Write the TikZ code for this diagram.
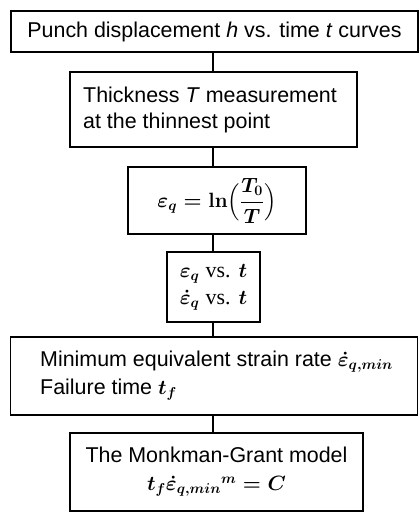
\documentclass[tikz,border=0pt]{standalone}
\usepackage{amsmath}
\usepackage[no-math]{fontspec}
\setmainfont{Liberation Sans}
\newfontfamily\serifvs{Liberation Serif}
\begin{document}
\begin{tikzpicture}[x=1bp,y=-1bp,
  box/.style={draw, line width=1.4bp, inner sep=0pt, outer sep=0pt},
  link/.style={line width=1.1bp},
  txt/.style={font=\fontsize{21.5}{24}\selectfont, inner sep=0pt},
  mth/.style={font=\fontsize{22}{24}\selectfont\boldmath, inner sep=0pt}]
\useasboundingbox (0,0) rectangle (419,513);
\node[box, minimum width=407bp, minimum height=41bp] (b1) at (214.5,31.5) {};
\node[box, minimum width=287bp, minimum height=75bp] (b2) at (213.5,109.5) {};
\node[box, minimum width=178bp, minimum height=67bp] (b3) at (217,200.5) {};
\node[box, minimum width=93bp, minimum height=70bp] (b4) at (213.5,287) {};
\node[box, minimum width=407bp, minimum height=78bp] (b5) at (214,376) {};
\node[box, minimum width=293bp, minimum height=78bp] (b6) at (216.5,472) {};
\node[txt] (t1) at (b1) {Punch displacement \textit{h} vs. time \textit{t} curves};
\node[txt, align=left, anchor=west, font=\fontsize{21.5}{27}\selectfont] (t2) at (83,110) {Thickness \textit{T} measurement\\at the thinnest point};
\node[mth] (t3) at (b3) {$\displaystyle \varepsilon_q = \ln\!\Big(\frac{T_0}{T}\Big)$};
\node[mth, align=center, font=\fontsize{22}{27}\selectfont\boldmath] (t4) at (b4) {$\varepsilon_q$ {\serifvs vs.} $t$\\$\dot{\varepsilon}_q$ {\serifvs vs.} $t$};
\node[txt, align=left, anchor=west, font=\fontsize{21.5}{28}\selectfont\boldmath] (t5) at (40,376) {Minimum equivalent strain rate $\dot{\varepsilon}_{q,min}$\\Failure time $t_f$};
\node[txt, align=center, font=\fontsize{21.5}{28}\selectfont\boldmath] (t6) at (b6) {The Monkman-Grant model\\$t_f\dot{\varepsilon}_{q,min}{}^{m} = C$};
\draw[link] (213,52) -- (b2.north -| 213,0);
\draw[link] (b2.south -| 213,0) -- (b3.north -| 213,0);
\draw[link] (b3.south -| 213,0) -- (b4.north -| 213,0);
\draw[link] (b4.south -| 213,0) -- (b5.north -| 213,0);
\draw[link] (b5.south -| 213,0) -- (b6.north -| 213,0);
\end{tikzpicture}
\end{document}
